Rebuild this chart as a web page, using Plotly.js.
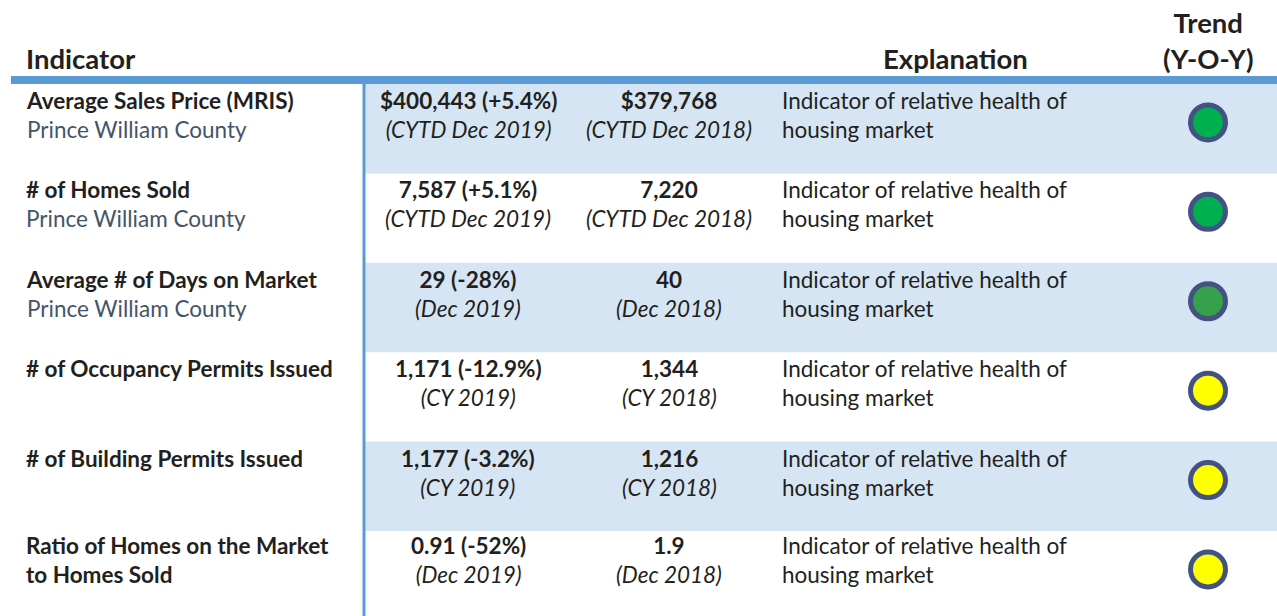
<!DOCTYPE html>
<html>
<head>
<meta charset="utf-8">
<script src="https://cdn.plot.ly/plotly-3.0.1.min.js"></script>
<style>html,body{margin:0;padding:0;background:#fff;}#chart{width:1277px;height:616px;}</style>
</head>
<body>
<div id="chart"></div>
<script>
// ---- data ----
var indicators = ["Average Sales Price (MRIS)", "# of Homes Sold", "Average # of Days on Market",
  "# of Occupancy Permits Issued", "# of Building Permits Issued", "Ratio of Homes on the Market\nto Homes Sold"];
var areas = ["Prince William County", "Prince William County", "Prince William County", "", "", ""];
var currentValues = ["$400,443 (+5.4%)", "7,587 (+5.1%)", "29 (-28%)", "1,171 (-12.9%)", "1,177 (-3.2%)", "0.91 (-52%)"];
var currentPeriods = ["(CYTD Dec 2019)", "(CYTD Dec 2019)", "(Dec 2019)", "(CY 2019)", "(CY 2019)", "(Dec 2019)"];
var priorValues = ["$379,768", "7,220", "40", "1,344", "1,216", "1.9"];
var priorPeriods = ["(CYTD Dec 2018)", "(CYTD Dec 2018)", "(Dec 2018)", "(CY 2018)", "(CY 2018)", "(Dec 2018)"];
var explanations = ["Indicator of relative health of\nhousing market", "Indicator of relative health of\nhousing market",
  "Indicator of relative health of\nhousing market", "Indicator of relative health of\nhousing market",
  "Indicator of relative health of\nhousing market", "Indicator of relative health of\nhousing market"];
var trendColors = ["#00b050", "#00b050", "#35a14a", "#ffff00", "#ffff00", "#ffff00"];
var headers = ["Indicator", "Explanation", "Trend\n(Y-O-Y)"];

// ---- layout constants ----
var FONT = "Lato, 'Open Sans', sans-serif";
var FS = 22.5;
var DARK = "#231f20";
var SUB = "#44546a";
var BLUE = "#5b9bd5";
var SHADE = "#d6e5f4";
var W = 1277, H = 616, headerH = 84, rowPx = 89.4;
var n = indicators.length;
var yTop = -0.5 - headerH / rowPx;
var yBottom = (n - 0.5) - (headerH + n * rowPx - H) / rowPx;
var colIndicator = 24, colCurrent = 468, colPrior = 669, colExpl = 780, colTrend = 1208, divider = 364;

function br(s) { return s.replace(/\n/g, "<br>"); }

var rows = indicators.map(function (_, i) { return i; });
var annotations = [];
var shapes = [];

rows.forEach(function (i) {
  if (i % 2 === 0) {
    shapes.push({type: "rect", xref: "x", yref: "y", x0: divider + 1, x1: W, y0: i - 0.5, y1: i + 0.5,
      fillcolor: SHADE, line: {width: 0}, layer: "below"});
  }
  var first = "<b>" + br(indicators[i]) + "</b>";
  if (areas[i]) first += "<br><span style='color:" + SUB + "'>" + areas[i] + "</span>";
  var base = {xref: "x", yref: "y", y: i - 0.5, yanchor: "top", yshift: (i === n - 1 ? 1 : -1), showarrow: false,
    font: {family: FONT, size: FS, color: DARK}};
  annotations.push(Object.assign({}, base, {x: colIndicator, xanchor: "left", align: "left", text: first}));
  annotations.push(Object.assign({}, base, {x: colCurrent, xanchor: "center", align: "center",
    text: "<b>" + currentValues[i] + "</b><br><i>" + currentPeriods[i] + "</i>"}));
  annotations.push(Object.assign({}, base, {x: colPrior, xanchor: "center", align: "center",
    text: "<b>" + priorValues[i] + "</b><br><i>" + priorPeriods[i] + "</i>"}));
  annotations.push(Object.assign({}, base, {x: colExpl, xanchor: "left", align: "left", text: br(explanations[i])}));
});

// headers
var hf = {family: FONT, size: 27.5, color: DARK};
annotations.push({xref: "x", yref: "y", x: colIndicator, y: -0.5, yanchor: "bottom", yshift: 7, xanchor: "left",
  showarrow: false, font: hf, text: "<b>" + headers[0] + "</b>"});
annotations.push({xref: "x", yref: "y", x: 955, y: -0.5, yanchor: "bottom", yshift: 7, xanchor: "center",
  showarrow: false, font: hf, text: "<b>" + headers[1] + "</b>"});
annotations.push({xref: "x", yref: "y", x: colTrend, y: -0.5, yanchor: "bottom", yshift: 7, xanchor: "center",
  align: "center", showarrow: false, font: hf, text: "<b>" + br(headers[2]) + "</b>"});

// header rule and divider
shapes.push({type: "rect", xref: "x", yref: "y", ysizemode: "pixel", yanchor: -0.5, y0: 0, y1: 8,
  x0: 11, x1: W, fillcolor: BLUE, line: {width: 0}});
shapes.push({type: "line", xref: "x", yref: "y", x0: divider, x1: divider, y0: -0.5, y1: n - 0.5,
  line: {color: BLUE, width: 3}});

var trace = {
  type: "scatter", mode: "markers",
  x: rows.map(function () { return colTrend; }),
  y: rows.map(function (i) { return i - 0.07; }),
  marker: {size: 35, color: trendColors, line: {color: "#435283", width: 5}},
  hoverinfo: "skip", cliponaxis: false
};

var layout = {
  width: W, height: H,
  margin: {l: 0, r: 0, t: 0, b: 0},
  paper_bgcolor: "#fff", plot_bgcolor: "#fff",
  showlegend: false,
  xaxis: {range: [0, W], visible: false, fixedrange: true},
  yaxis: {range: [yBottom, yTop], visible: false, fixedrange: true},
  shapes: shapes, annotations: annotations
};

Plotly.newPlot("chart", [trace], layout, {displayModeBar: false, staticPlot: true});
</script>
</body>
</html>
